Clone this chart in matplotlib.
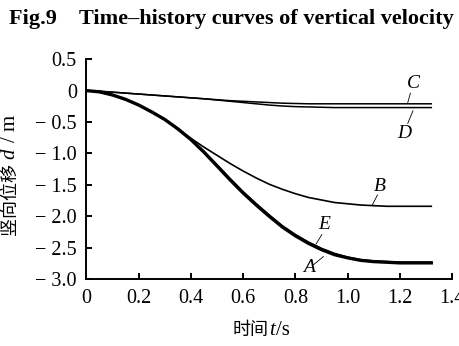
import matplotlib
matplotlib.use('Agg')
import matplotlib.pyplot as plt

# time (s)
t = [0, 0.05, 0.1, 0.15, 0.2, 0.25, 0.3, 0.35, 0.4, 0.45, 0.5, 0.55, 0.6, 0.65,
     0.7, 0.75, 0.8, 0.85, 0.9, 0.95, 1.0, 1.05, 1.1, 1.15, 1.2, 1.25, 1.3, 1.32]

# vertical displacement (m)
curve_a = [0, -0.02, -0.07, -0.14, -0.23, -0.34, -0.46, -0.61, -0.78, -0.98, -1.20, -1.42,
           -1.63, -1.82, -2.00, -2.17, -2.31, -2.43, -2.53, -2.61, -2.66, -2.70, -2.72,
           -2.73, -2.74, -2.74, -2.74, -2.74]
curve_e = [0, -0.02, -0.07, -0.14, -0.23, -0.34, -0.46, -0.60, -0.77, -0.97, -1.18, -1.40,
           -1.61, -1.80, -1.98, -2.15, -2.29, -2.41, -2.51, -2.59, -2.65, -2.69, -2.71,
           -2.72, -2.73, -2.73, -2.73, -2.73]
curve_b = [0, -0.02, -0.07, -0.14, -0.23, -0.34, -0.46, -0.61, -0.76, -0.90, -1.03, -1.16,
           -1.28, -1.39, -1.49, -1.57, -1.64, -1.70, -1.74, -1.78, -1.80, -1.82, -1.83,
           -1.84, -1.84, -1.84, -1.84, -1.84]
curve_c = [0, -0.01, -0.025, -0.04, -0.055, -0.07, -0.085, -0.10, -0.115, -0.13, -0.145,
           -0.16, -0.17, -0.18, -0.19, -0.20, -0.205, -0.21, -0.21, -0.21, -0.21, -0.21,
           -0.21, -0.21, -0.21, -0.21, -0.21, -0.21]
curve_d = [0, -0.01, -0.025, -0.04, -0.055, -0.07, -0.085, -0.10, -0.115, -0.13, -0.15,
           -0.17, -0.19, -0.21, -0.23, -0.245, -0.255, -0.26, -0.265, -0.27, -0.27, -0.27,
           -0.27, -0.27, -0.27, -0.27, -0.27, -0.27]

xticks = [0, 0.2, 0.4, 0.6, 0.8, 1.0, 1.2, 1.4]
xtick_labels = ['0', '0.2', '0.4', '0.6', '0.8', '1.0', '1.2', '1.4']
yticks = [0.5, 0, -0.5, -1.0, -1.5, -2.0, -2.5, -3.0]
ytick_labels = ['0.5', '0', '\u2212 0.5', '\u2212 1.0', '\u2212 1.5', '\u2212 2.0', '\u2212 2.5', '\u2212 3.0']

serif = ['Liberation Serif', 'DejaVu Serif']
mixed = ['Liberation Serif', 'Noto Sans CJK SC']

fig = plt.figure(figsize=(4.6, 3.46), dpi=100)
ax = fig.add_axes([0.188, 0.193, 0.795, 0.636])

ax.plot(t, curve_c, color='black', lw=1.1)
ax.plot(t, curve_d, color='black', lw=1.1)
ax.plot(t, curve_b, color='black', lw=1.2)
ax.plot(t, curve_a, color='black', lw=2.4)
ax.plot(t, curve_e, color='black', lw=1.2)

ax.set_xlim(0, 1.4)
ax.set_ylim(-3.0, 0.5)
ax.set_xticks(xticks)
ax.set_xticklabels(xtick_labels, family=serif, fontsize=14.5)
ax.set_yticks(yticks)
ax.set_yticklabels(ytick_labels, family=serif, fontsize=14.5)
ax.tick_params(direction='in', length=4, width=1.4, pad=7)
for s in ['top', 'right']:
    ax.spines[s].set_visible(False)
for s in ['left', 'bottom']:
    ax.spines[s].set_linewidth(1.4)

# curve labels with leader lines
def tag(txt, tx, ty, x0, y0, x1, y1):
    ax.text(tx, ty, txt, family=serif, style='italic', fontsize=14,
            ha='center', va='center')
    ax.plot([x0, x1], [y0, y1], color='black', lw=0.6)

tag('C', 1.253, 0.12, 1.240, -0.04, 1.230, -0.19)
tag('D', 1.216, -0.69, 1.250, -0.32, 1.230, -0.52)
tag('B', 1.122, -1.53, 1.114, -1.66, 1.093, -1.83)
tag('E', 0.910, -2.13, 0.901, -2.29, 0.879, -2.44)
tag('A', 0.853, -2.82, 0.907, -2.64, 0.869, -2.77)

fig.text(0.503, 0.945, 'Fig.9    Time\u2013history curves of vertical velocity',
         family=serif, fontweight='bold', fontsize=16, ha='center', va='center')

# axis labels (Chinese + italic symbol)
fig.text(0.505, 0.045, '时间', family=mixed, fontsize=13, ha='left', va='center')
fig.text(0.585, 0.045, 't', family=serif, style='italic', fontsize=15, ha='left', va='center')
fig.text(0.600, 0.045, '/s', family=serif, fontsize=15, ha='left', va='center')

fig.text(0.022, 0.425, '竖向位移', family=mixed, fontsize=13, rotation=90,
         ha='center', va='center')
fig.text(0.022, 0.555, 'd', family=serif, style='italic', fontsize=15, rotation=90,
         ha='center', va='center')
fig.text(0.022, 0.630, '/ m', family=serif, fontsize=15, rotation=90,
         ha='center', va='center')

fig.savefig('out.png', dpi=100)
